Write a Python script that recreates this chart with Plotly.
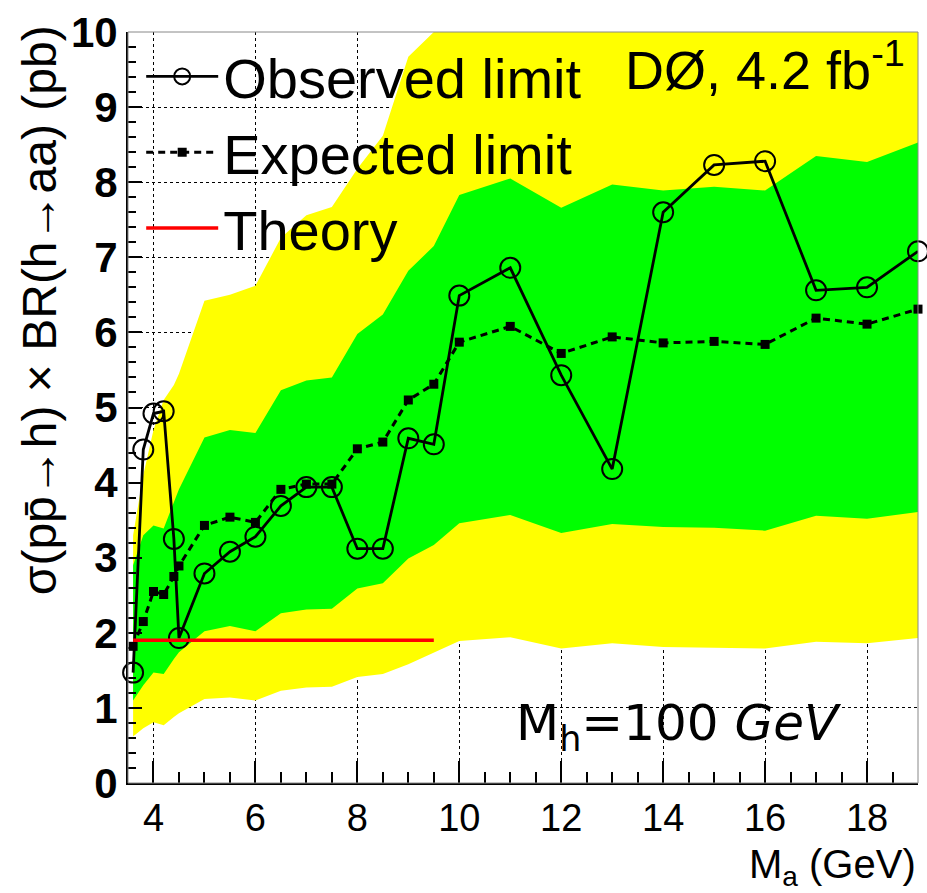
import plotly.graph_objects as go

# Pseudoscalar mass points (GeV)
mass = [3.6, 3.8, 4.0, 4.2, 4.4, 4.5, 5.0, 5.5, 6.0, 6.5, 7.0, 7.5, 8.0, 8.5,
        9.0, 9.5, 10, 11, 12, 13, 14, 15, 16, 17, 18, 19]

# 95% CL limits on sigma x BR (pb)
observed = [1.47, 4.44, 4.92, 4.95, 3.25, 1.93, 2.79, 3.08, 3.28, 3.69, 3.94, 3.94,
            3.12, 3.12, 4.59, 4.51, 6.49, 6.86, 5.43, 4.18, 7.60, 8.23, 8.28, 6.56,
            6.60, 7.08]
expected = [1.82, 2.15, 2.55, 2.51, 2.75, 2.89, 3.43, 3.54, 3.47, 3.91, 3.98, 3.98,
            4.45, 4.54, 5.10, 5.31, 5.87, 6.08, 5.72, 5.94, 5.86, 5.88, 5.84, 6.19,
            6.11, 6.31]

# Expected-limit bands
minus1sigma = [1.10, 1.30, 1.47, 1.45, 1.65, 1.74, 2.02, 2.09, 2.02, 2.26, 2.31, 2.32,
               2.59, 2.66, 2.99, 3.17, 3.46, 3.57, 3.33, 3.45, 3.41, 3.40, 3.36, 3.56,
               3.52, 3.61]
plus1sigma = [2.90, 3.30, 3.43, 3.39, 3.74, 3.91, 4.60, 4.70, 4.66, 5.23, 5.36, 5.40,
              5.98, 6.24, 6.82, 7.15, 7.83, 8.05, 7.66, 7.97, 7.89, 7.94, 7.89, 8.35,
              8.27, 8.53]
minus2sigma = [0.62, 0.73, 0.81, 0.77, 0.88, 0.93, 1.12, 1.14, 1.10, 1.23, 1.27, 1.28,
               1.41, 1.45, 1.58, 1.73, 1.89, 1.94, 1.79, 1.86, 1.81, 1.80, 1.79, 1.88,
               1.86, 1.93]
plus2sigma = [3.30, 4.10, 4.70, 5.10, 5.30, 5.45, 6.42, 6.50, 6.62, 7.26, 7.56, 7.67,
              8.18, 8.62, 9.67, 10.0, 11.4, 11.8, 11.3, 11.6, 11.5, 11.6, 11.5, 12.1,
              12.0, 12.4]

# Theory prediction (pb)
theory_mass = [3.6, 3.8, 4.0, 4.2, 4.4, 4.5, 5.0, 5.5, 6.0, 6.5, 7.0, 7.5, 8.0, 8.5,
               9.0, 9.5]
theory = [1.9] * len(theory_mass)

x_ticks = [4, 6, 8, 10, 12, 14, 16, 18]
y_ticks = [0, 1, 2, 3, 4, 5, 6, 7, 8, 9, 10]

YELLOW = "#ffff00"
GREEN = "#00ff00"
FONT = "Liberation Sans, Arial, sans-serif"

fig = go.Figure()

# +-2 sigma band
fig.add_trace(go.Scatter(x=mass, y=minus2sigma, mode="lines", line=dict(width=0),
                         showlegend=False, hoverinfo="skip"))
fig.add_trace(go.Scatter(x=mass, y=plus2sigma, mode="lines", line=dict(width=0),
                         fill="tonexty", fillcolor=YELLOW, showlegend=False,
                         hoverinfo="skip"))
# +-1 sigma band
fig.add_trace(go.Scatter(x=mass, y=minus1sigma, mode="lines", line=dict(width=0),
                         showlegend=False, hoverinfo="skip"))
fig.add_trace(go.Scatter(x=mass, y=plus1sigma, mode="lines", line=dict(width=0),
                         fill="tonexty", fillcolor=GREEN, showlegend=False,
                         hoverinfo="skip"))

fig.add_trace(go.Scatter(x=mass, y=observed, mode="lines+markers", name="Observed limit",
                         line=dict(color="black", width=2.8),
                         marker=dict(symbol="circle-open", size=20, color="black",
                                     line=dict(width=2)),
                         cliponaxis=False))
fig.add_trace(go.Scatter(x=mass, y=expected, mode="lines+markers", name="Expected limit",
                         line=dict(color="black", width=3, dash="7px,5px"),
                         marker=dict(symbol="square", size=9, color="black"),
                         cliponaxis=False))
fig.add_trace(go.Scatter(x=theory_mass, y=theory, mode="lines", name="Theory",
                         line=dict(color="#ff0000", width=3.5)))

fig.update_xaxes(range=[3.5, 19.0], tickvals=x_ticks, ticktext=[str(v) for v in x_ticks],
                 ticks="inside", ticklen=22, tickwidth=2, tickcolor="black",
                 minor=dict(dtick=0.5, ticks="inside", ticklen=11, tickwidth=2,
                            tickcolor="black", showgrid=False),
                 showgrid=True, gridcolor="black", griddash="dot", gridwidth=1,
                 showline=True, linecolor="black", linewidth=2, zeroline=False,
                 tickfont=dict(family=FONT, size=38, color="black"))
fig.update_yaxes(range=[0, 10], tickvals=y_ticks, ticktext=[str(v) for v in y_ticks],
                 ticks="inside", ticklen=14, tickwidth=2, tickcolor="black",
                 minor=dict(dtick=0.2, ticks="inside", ticklen=8, tickwidth=2,
                            tickcolor="black", showgrid=False),
                 showgrid=True, gridcolor="black", griddash="dot", gridwidth=1,
                 showline=True, linecolor="black", linewidth=2, zeroline=False,
                 tickfont=dict(family=FONT, size=42, color="black", weight="bold"))

annotations = [
    dict(text="σ(pp̄→h) × BR(h→aa) (pb)", x=-0.111, y=0.63, xref="paper", yref="paper",
         textangle=-90, showarrow=False, xanchor="center", yanchor="middle",
         font=dict(family=FONT, size=48, color="black")),
    dict(text="M<sub>a</sub> (GeV)", x=1.0, y=-0.112, xref="paper", yref="paper",
         showarrow=False, xanchor="right", yanchor="middle",
         font=dict(family=FONT, size=40, color="black")),
    dict(text="DØ, 4.2 fb<sup>-1</sup>", x=0.986, y=0.955, xref="paper", yref="paper",
         showarrow=False, xanchor="right", yanchor="middle",
         font=dict(family=FONT, size=54, color="black")),
    dict(text="M<sub>h</sub>=100 <i>GeV</i>", x=0.697, y=0.075, xref="paper", yref="paper",
         showarrow=False, xanchor="center", yanchor="middle",
         font=dict(family="DejaVu Sans, sans-serif", size=50, color="black")),
]

fig.update_layout(
    width=927, height=893,
    margin=dict(l=128, r=9, t=25, b=110),
    paper_bgcolor="white", plot_bgcolor="white",
    showlegend=True,
    legend=dict(x=0.0167, y=0.998, xanchor="left", yanchor="top",
                bgcolor="rgba(0,0,0,0)", borderwidth=0, itemwidth=72,
                font=dict(family=FONT, size=56, color="black"),
                traceorder="normal"),
    annotations=annotations,
    shapes=[dict(type="rect", xref="paper", yref="paper", x0=0, x1=1, y0=0, y1=1,
                 line=dict(color="#888888", width=1), layer="above")],
)

fig.write_html("out.html")
